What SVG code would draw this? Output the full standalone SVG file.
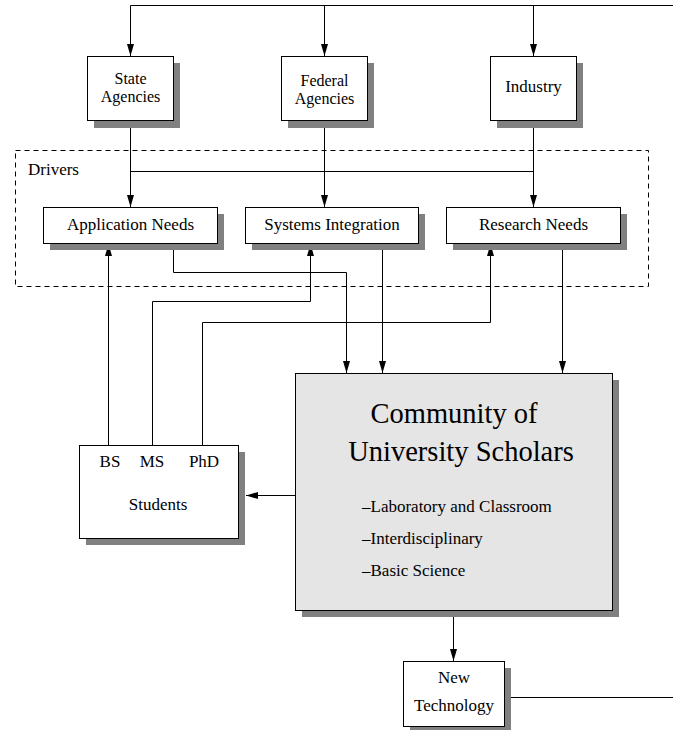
<svg xmlns="http://www.w3.org/2000/svg" width="673" height="730" viewBox="0 0 673 730">
<style>
.box{fill:#fff;stroke:#000;stroke-width:1}
.big{fill:#e5e5e5;stroke:#000;stroke-width:1}
.sh{fill:#808080}
.ln{fill:none;stroke:#000;stroke-width:1}
.t{font-family:"Liberation Serif","Times New Roman",serif;font-size:17px;fill:#000;text-anchor:middle}
.ts{font-family:"Liberation Serif","Times New Roman",serif;font-size:16px;fill:#000;text-anchor:middle}
.tl{font-family:"Liberation Serif","Times New Roman",serif;font-size:17px;fill:#000}
.tb{font-family:"Liberation Serif","Times New Roman",serif;font-size:28.5px;fill:#000;text-anchor:middle}
</style>
<defs>
<marker id="ar" markerUnits="userSpaceOnUse" markerWidth="12" markerHeight="7" refX="12" refY="3.5" orient="auto">
<path d="M0,0 L12,3.5 L0,7 z" fill="#000"/>
</marker>
</defs>
<rect x="15.5" y="150.5" width="633" height="136" fill="none" stroke="#000" stroke-width="1" stroke-dasharray="5,4"/>
<text class="tl" x="28" y="175">Drivers</text>
<g id="connectors">
<path class="ln" d="M130.5,5.5 H673"/>
<path class="ln" d="M130.5,5.5 V56" marker-end="url(#ar)"/>
<path class="ln" d="M324.5,5.5 V56" marker-end="url(#ar)"/>
<path class="ln" d="M533.5,5.5 V56" marker-end="url(#ar)"/>
<path class="ln" d="M130.5,171.5 H533.5"/>
<path class="ln" d="M130.5,121 V207" marker-end="url(#ar)"/>
<path class="ln" d="M324.5,121 V207" marker-end="url(#ar)"/>
<path class="ln" d="M533.5,121 V207" marker-end="url(#ar)"/>
<path class="ln" d="M173.5,243 V272.5 H346.5 V373" marker-end="url(#ar)"/>
<path class="ln" d="M382.5,243 V373" marker-end="url(#ar)"/>
<path class="ln" d="M562.5,243 V373" marker-end="url(#ar)"/>
<path class="ln" d="M108.5,445 V244" marker-end="url(#ar)"/>
<path class="ln" d="M152.5,445 V301.5 H310.5 V244" marker-end="url(#ar)"/>
<path class="ln" d="M202.5,445 V322.5 H490.5 V244" marker-end="url(#ar)"/>
<path class="ln" d="M295,495.5 H246" marker-end="url(#ar)"/>
<path class="ln" d="M453.5,610 V661" marker-end="url(#ar)"/>
<path class="ln" d="M504,697.5 H673"/>
</g>
<g id="state-agencies">
<rect class="sh" x="94" y="63" width="86" height="65"/>
<rect class="box" x="87.5" y="56.5" width="86" height="64"/>
<text class="ts" x="130.5" y="84">State</text>
<text class="ts" x="130.5" y="102">Agencies</text>
</g>
<g id="federal-agencies">
<rect class="sh" x="288" y="63" width="86" height="65"/>
<rect class="box" x="281.5" y="56.5" width="86" height="64"/>
<text class="ts" x="324.5" y="86">Federal</text>
<text class="ts" x="324.5" y="104">Agencies</text>
</g>
<g id="industry">
<rect class="sh" x="497" y="63" width="86" height="65"/>
<rect class="box" x="490.5" y="56.5" width="86" height="64"/>
<text class="t" x="533.5" y="92">Industry</text>
</g>
<g id="application-needs">
<rect class="sh" x="50" y="214" width="174" height="36"/>
<rect class="box" x="43.5" y="207.5" width="174" height="36"/>
<text class="t" x="130.5" y="230">Application Needs</text>
</g>
<g id="systems-integration">
<rect class="sh" x="252" y="214" width="173" height="36"/>
<rect class="box" x="245.5" y="207.5" width="173" height="36"/>
<text class="t" x="332" y="230">Systems Integration</text>
</g>
<g id="research-needs">
<rect class="sh" x="453" y="214" width="174" height="36"/>
<rect class="box" x="446.5" y="207.5" width="174" height="36"/>
<text class="t" x="533.5" y="230">Research Needs</text>
</g>
<g id="students">
<rect class="sh" x="86" y="452" width="159" height="93"/>
<rect class="box" x="79.5" y="445.5" width="159" height="93"/>
<text class="t" x="110" y="467">BS</text>
<text class="t" x="152" y="467">MS</text>
<text class="t" x="204" y="467">PhD</text>
<text class="t" x="158" y="510">Students</text>
</g>
<g id="community">
<rect class="sh" x="302" y="380" width="317" height="237"/>
<rect class="big" x="295.5" y="373.5" width="317" height="237"/>
<text class="tb" x="454" y="423">Community of</text>
<text class="tb" x="461" y="461">University Scholars</text>
<text class="tl" x="362" y="512">–Laboratory and Classroom</text>
<text class="tl" x="362" y="544">–Interdisciplinary</text>
<text class="tl" x="362" y="576">–Basic Science</text>
</g>
<g id="new-technology">
<rect class="sh" x="410" y="668" width="101" height="70"/>
<rect class="box" x="403.5" y="661.5" width="101" height="65"/>
<text class="t" x="454" y="683">New</text>
<text class="t" x="454" y="711">Technology</text>
</g>
</svg>
